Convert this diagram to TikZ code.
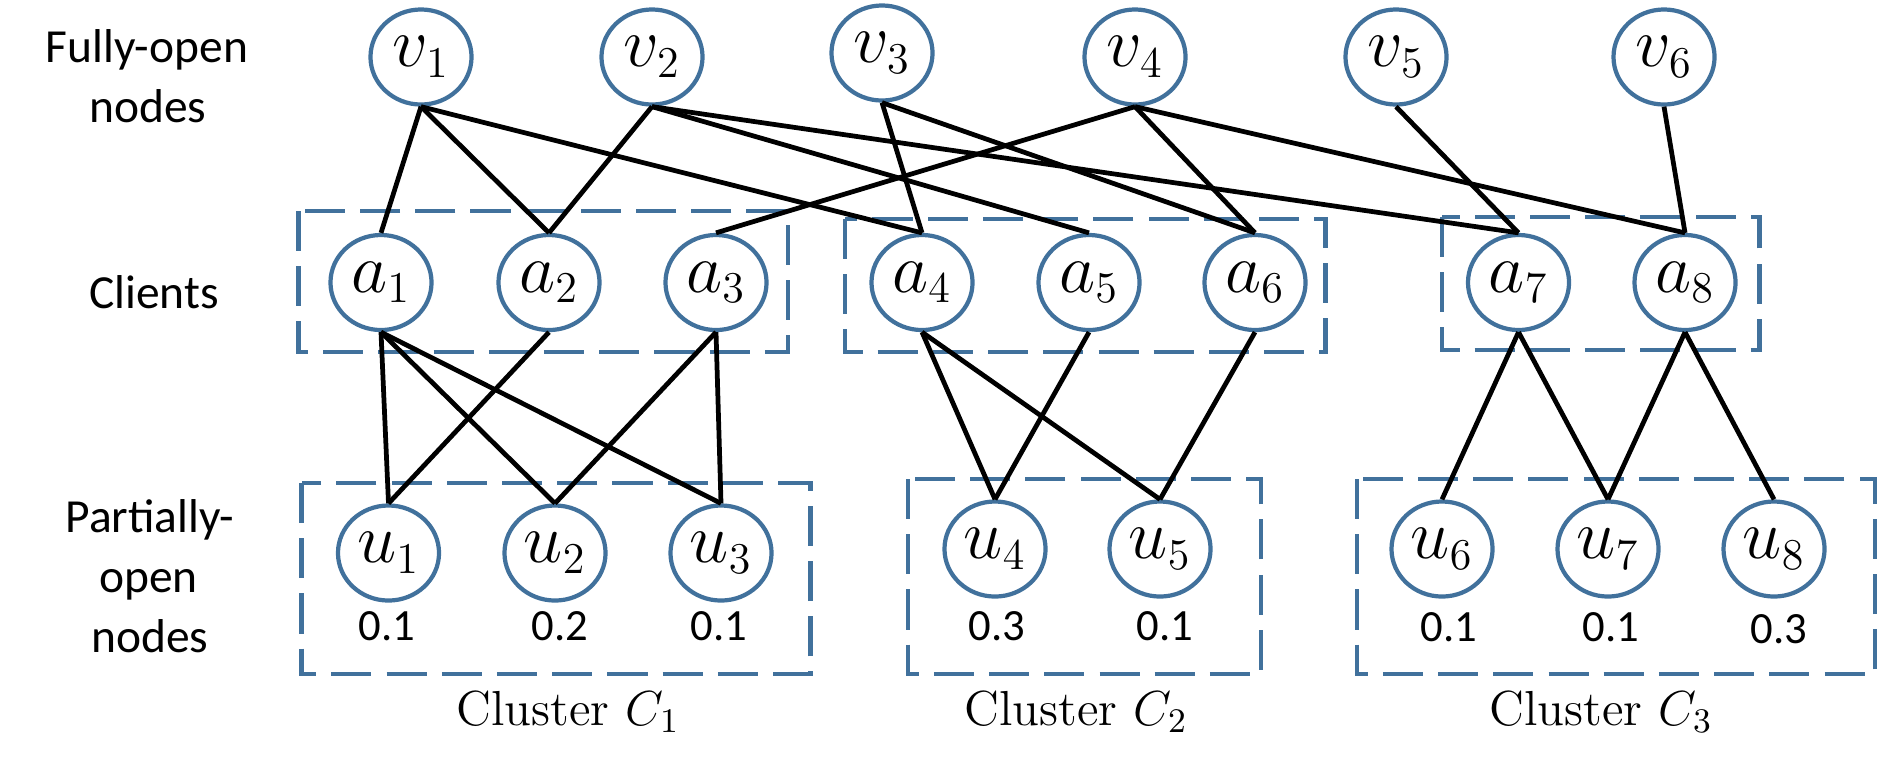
\RequirePackage{fix-cm}
\documentclass[tikz,border=0pt]{standalone}
\usepackage{fontspec}
\newfontfamily\carlito{Carlito}
\usetikzlibrary{shapes.geometric}
\DeclareMathSizes{20}{20}{12.5}{9}
\definecolor{nodeblue}{RGB}{65,113,156}
\tikzset{
  gn/.style={ellipse, draw=nodeblue, line width=1.2pt, fill=white,
    minimum width=1.01cm, minimum height=0.95cm, inner sep=0pt,
    font=\fontsize{20}{20}\selectfont},
  link/.style={line width=1.35pt, black},
  cbox/.style={draw=nodeblue, line width=1.4pt, dash pattern=on 11.4pt off 4.3pt},
  rowlbl/.style={anchor=base, inner sep=0pt, font=\carlito\fontsize{13.5}{16}\selectfont},
  val/.style={anchor=base, inner sep=0pt, font=\carlito\fontsize{12.7}{15}\selectfont},
  clus/.style={anchor=base, inner sep=0pt, font=\fontsize{14}{16}\selectfont}
}
\begin{document}
\begin{tikzpicture}[x=0.01cm,y=-0.01cm]
\useasboundingbox (0,0) rectangle (1877,763);
% row labels
\node[rowlbl] (l1a) at (147,62) {Fully-open};
\node[rowlbl] (l1b) at (148,122) {nodes};
\node[rowlbl] (l2) at (154,308) {Clients};
\node[rowlbl] (l3a) at (150,532) {Partially-};
\node[rowlbl] (l3b) at (148.5,592) {open};
\node[rowlbl] (l3c) at (150,652) {nodes};
% fully-open nodes
\node[gn] (v1) at (421,57) {$v_1$};
\node[gn] (v2) at (652,57) {$v_2$};
\node[gn] (v3) at (882,53) {$v_3$};
\node[gn] (v4) at (1135,57) {$v_4$};
\node[gn] (v5) at (1396,57) {$v_5$};
\node[gn] (v6) at (1664,57) {$v_6$};
% clients
\node[gn] (a1) at (381,282.5) {$a_1$};
\node[gn] (a2) at (549,282.5) {$a_2$};
\node[gn] (a3) at (716,282.5) {$a_3$};
\node[gn] (a4) at (922,282.5) {$a_4$};
\node[gn] (a5) at (1089,282.5) {$a_5$};
\node[gn] (a6) at (1255,282.5) {$a_6$};
\node[gn] (a7) at (1518.5,282.5) {$a_7$};
\node[gn] (a8) at (1685,282.5) {$a_8$};
% partially-open nodes
\node[gn] (u1) at (388.5,553) {$u_1$};
\node[gn] (u2) at (555,553) {$u_2$};
\node[gn] (u3) at (721,553) {$u_3$};
\node[gn] (u4) at (995,549) {$u_4$};
\node[gn] (u5) at (1160,549) {$u_5$};
\node[gn] (u6) at (1442,549) {$u_6$};
\node[gn] (u7) at (1608,549) {$u_7$};
\node[gn] (u8) at (1774,549) {$u_8$};
% values
\node[val] (p1) at (387,640) {0.1};
\node[val] (p2) at (560,640) {0.2};
\node[val] (p3) at (719,640) {0.1};
\node[val] (p4) at (997,640) {0.3};
\node[val] (p5) at (1165,640) {0.1};
\node[val] (p6) at (1449,641) {0.1};
\node[val] (p7) at (1611,641) {0.1};
\node[val] (p8) at (1779,643) {0.3};
% cluster labels
\node[clus] (c1) at (568,725) {Cluster $C_1$};
\node[clus] (c2) at (1076,725) {Cluster $C_2$};
\node[clus] (c3) at (1601,725) {Cluster $C_3$};
% dashed boxes
\draw[cbox] (298.5,211) rectangle (788,352);
\draw[cbox] (845,219) rectangle (1325.5,352);
\draw[cbox] (1442,217) rectangle (1759.5,350);
\draw[cbox] (301.5,483) rectangle (810.5,674);
\draw[cbox] (908,479) rectangle (1261,674);
\draw[cbox] (1357,479) rectangle (1875,674);
% edges: fully-open to clients
\draw[link] (v1.south) -- (a1.north);
\draw[link] (v1.south) -- (a2.north);
\draw[link] (v1.south) -- (a4.north);
\draw[link] (v2.south) -- (a2.north);
\draw[link] (v2.south) -- (a5.north);
\draw[link] (v2.south) -- (a7.north);
\draw[link] (v3.south) -- (a4.north);
\draw[link] (v3.south) -- (a6.north);
\draw[link] (v4.south) -- (a3.north);
\draw[link] (v4.south) -- (a6.north);
\draw[link] (v4.south) -- (a8.north);
\draw[link] (v5.south) -- (a7.north);
\draw[link] (v6.south) -- (a8.north);
% edges: clients to partially-open
\draw[link] (a1.south) -- (u1.north);
\draw[link] (a1.south) -- (u2.north);
\draw[link] (a1.south) -- (u3.north);
\draw[link] (a2.south) -- (u1.north);
\draw[link] (a3.south) -- (u2.north);
\draw[link] (a3.south) -- (u3.north);
\draw[link] (a4.south) -- (u4.north);
\draw[link] (a4.south) -- (u5.north);
\draw[link] (a5.south) -- (u4.north);
\draw[link] (a6.south) -- (u5.north);
\draw[link] (a7.south) -- (u6.north);
\draw[link] (a7.south) -- (u7.north);
\draw[link] (a8.south) -- (u7.north);
\draw[link] (a8.south) -- (u8.north);
\end{tikzpicture}
\end{document}
